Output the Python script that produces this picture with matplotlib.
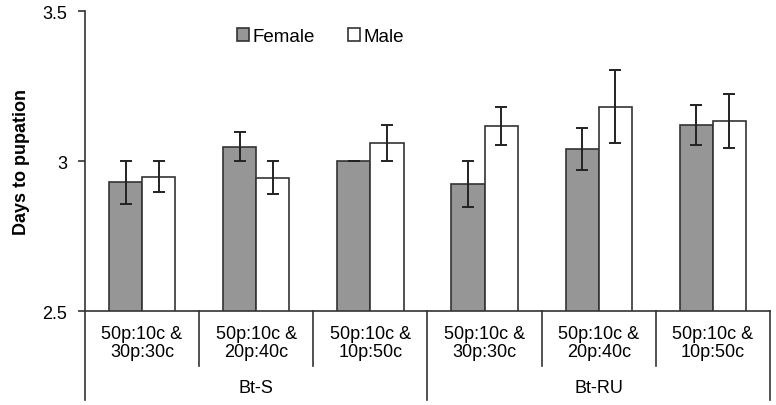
import numpy as np
import matplotlib.pyplot as plt
from matplotlib.transforms import blended_transform_factory

plt.rcParams['font.family'] = ['Liberation Sans', 'DejaVu Sans']

cat_labels = ['50p:10c &\n30p:30c', '50p:10c &\n20p:40c', '50p:10c &\n10p:50c',
              '50p:10c &\n30p:30c', '50p:10c &\n20p:40c', '50p:10c &\n10p:50c']
groups = ['Bt-S', 'Bt-RU']
female = [2.929, 3.048, 3.000, 2.923, 3.039, 3.120]
female_err = [0.071, 0.048, 0.0, 0.077, 0.070, 0.067]
male = [2.948, 2.945, 3.060, 3.116, 3.181, 3.132]
male_err = [0.052, 0.055, 0.059, 0.064, 0.122, 0.090]

fig = plt.figure(figsize=(7.76, 4.06), dpi=100)
ax = fig.add_axes([0.1095, 0.2315, 0.8828, 0.7389])

x = np.arange(len(cat_labels))
w = 0.29
edge = '#333333'
ekw = dict(ecolor='#222222', elinewidth=1.4, capthick=1.4)
ax.bar(x - w / 2, female, w, color='#969696', edgecolor=edge, linewidth=1.2,
       yerr=female_err, capsize=4, error_kw=ekw, label='Female')
ax.bar(x + w / 2, male, w, color='white', edgecolor=edge, linewidth=1.2,
       yerr=male_err, capsize=4, error_kw=ekw, label='Male')

ax.set_xlim(-0.5, 5.5)
ax.set_ylim(2.5, 3.5)
ax.set_yticks([2.5, 3.0, 3.5])
ax.set_yticklabels(['2.5', '3', '3.5'], fontsize=13)
ax.tick_params(axis='y', direction='out', length=5, width=1.2, color=edge, pad=8)
ax.set_xticks([])
for s in ['top', 'right']:
    ax.spines[s].set_visible(False)
ax.spines['left'].set_color(edge)
ax.spines['left'].set_linewidth(1.2)
ax.spines['bottom'].set_color(edge)
ax.spines['bottom'].set_linewidth(1.2)

ax.set_ylabel('Days to pupation', fontsize=13, fontweight='bold', labelpad=9)

# category axis labels and separators
tr = blended_transform_factory(ax.transData, ax.transAxes)
for i, lab in enumerate(cat_labels):
    ax.text(i, -0.045, lab, transform=tr, ha='center', va='top', fontsize=13,
            linespacing=1.1)
for b in np.arange(-0.5, 6, 1):
    is_group = b in (-0.5, 2.5, 5.5)
    low = -0.295 if is_group else -0.183
    ax.plot([b, b], [0, low], transform=tr, color=edge, lw=1.2, clip_on=False)
for g, lab in enumerate(groups):
    ax.text(g * 3 + 1, -0.228, lab, transform=tr, ha='center', va='top', fontsize=13)

ax.legend(loc='upper left', bbox_to_anchor=(0.197, 1.0), ncol=2, frameon=False,
          fontsize=13.5, handlelength=0.65, handleheight=0.65, handletextpad=0.2,
          columnspacing=1.75)

fig.savefig('out.png', dpi=100)
